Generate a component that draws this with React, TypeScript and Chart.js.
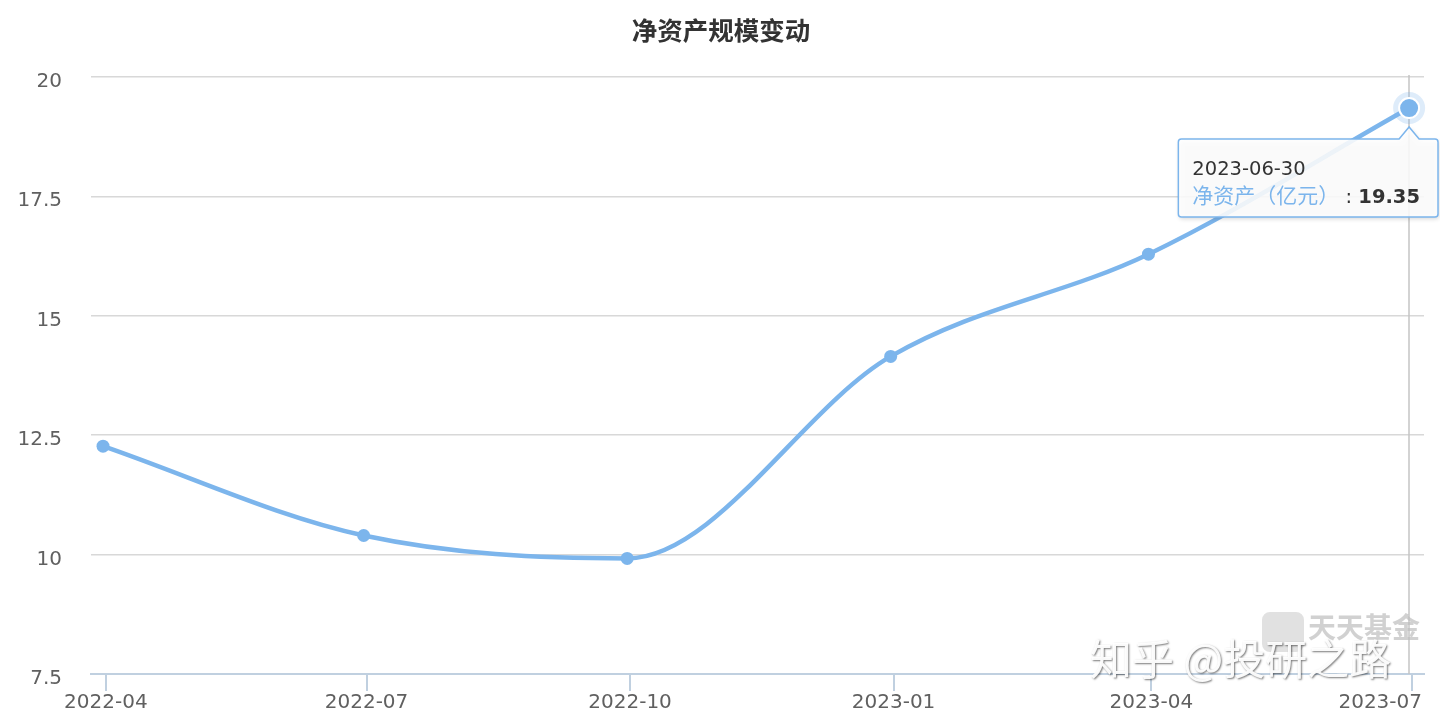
import React, { useEffect, useRef } from 'react';
import { Chart, registerables } from 'chart.js';

Chart.register(...registerables);

const chartTitle = '净资产规模变动';
const seriesName = '净资产（亿元）';
const reportDates = ['2022-03-31', '2022-06-30', '2022-09-30', '2022-12-31', '2023-03-31', '2023-06-30'];
const netAssets = [12.27, 10.4, 9.92, 14.15, 16.29, 19.35];
const xTickDates = ['2022-04-01', '2022-07-01', '2022-10-01', '2023-01-01', '2023-04-01', '2023-07-01'];
const xTickLabels = ['2022-04', '2022-07', '2022-10', '2023-01', '2023-04', '2023-07'];
const yTickValues = [7.5, 10, 12.5, 15, 17.5, 20];
const yTickLabels = ['7.5', '10', '12.5', '15', '17.5', '20'];
const activeIndex = 5;

const BASE = Date.UTC(2022, 2, 31);
const dayOf = (s: string) => {
  const [y, m, d] = s.split('-').map(Number);
  return (Date.UTC(y, m - 1, d) - BASE) / 86400000;
};

const LINE_COLOR = '#7cb5ec';
const LABEL_FONT = '"DejaVu Sans", "Noto Sans CJK SC", sans-serif';
const CJK_FONT = '"Noto Sans CJK SC", "DejaVu Sans", sans-serif';

const decorPlugin = {
  id: 'decor',
  beforeDatasetsDraw(chart: any) {
    const { ctx, chartArea, scales } = chart;
    const px = Math.round(scales.x.getPixelForValue(dayOf(reportDates[activeIndex])));
    ctx.save();
    ctx.strokeStyle = '#c4c4c4';
    ctx.lineWidth = 1.5;
    ctx.beginPath();
    ctx.moveTo(px, chartArea.top - 2);
    ctx.lineTo(px, chartArea.bottom);
    ctx.stroke();
    ctx.restore();
  },
  afterDraw(chart: any) {
    const { ctx, chartArea, scales, width } = chart;
    const xs = scales.x;
    const ys = scales.y;
    ctx.save();

    // title
    ctx.fillStyle = '#333333';
    ctx.font = `bold 25.5px ${CJK_FONT}`;
    ctx.textAlign = 'center';
    ctx.textBaseline = 'middle';
    ctx.fillText(chartTitle, 721, 30);

    // y labels
    ctx.font = `20px ${LABEL_FONT}`;
    ctx.fillStyle = '#606060';
    ctx.textAlign = 'right';
    ctx.textBaseline = 'alphabetic';
    yTickValues.forEach((v, i) => {
      const py = ys.getPixelForValue(v);
      ctx.fillText(yTickLabels[i], chartArea.left - 29, py + 10);
    });

    // x labels
    ctx.textAlign = 'left';
    xTickDates.forEach((d, i) => {
      const px = xs.getPixelForValue(dayOf(d));
      const w = ctx.measureText(xTickLabels[i]).width;
      let left = px - w / 2;
      if (left + w > width - 18) left = width - 18 - w;
      ctx.fillText(xTickLabels[i], left, 708);
    });

    // hovered point
    const hx = xs.getPixelForValue(dayOf(reportDates[activeIndex]));
    const hy = ys.getPixelForValue(netAssets[activeIndex]);
    ctx.fillStyle = 'rgba(124,181,236,0.25)';
    ctx.beginPath();
    ctx.arc(hx, hy, 16, 0, Math.PI * 2);
    ctx.fill();
    ctx.fillStyle = LINE_COLOR;
    ctx.strokeStyle = '#ffffff';
    ctx.lineWidth = 2;
    ctx.beginPath();
    ctx.arc(hx, hy, 10, 0, Math.PI * 2);
    ctx.fill();
    ctx.stroke();

    // tooltip
    const dateText = reportDates[activeIndex];
    const valueText = netAssets[activeIndex].toFixed(2);
    const dateFont = `19.5px ${LABEL_FONT}`;
    const nameFont = `21px ${CJK_FONT}`;
    const colonFont = `19.5px ${LABEL_FONT}`;
    const valFont = `bold 19.5px ${LABEL_FONT}`;
    ctx.font = dateFont;
    const wDate = ctx.measureText(dateText).width;
    ctx.font = nameFont;
    const wName = ctx.measureText(seriesName).width;
    ctx.font = colonFont;
    const wColon = ctx.measureText(' : ').width;
    ctx.font = valFont;
    const wVal = ctx.measureText(valueText).width;
    const contentW = Math.max(wDate, wName + wColon + wVal);
    const boxW = contentW + 32;
    const boxH = 78;
    const boxRight = Math.min(hx + 29, width - 2);
    const boxLeft = boxRight - boxW;
    const boxTop = hy + 31;
    const tipY = hy + 19;
    const r = 3;

    ctx.save();
    ctx.shadowColor = 'rgba(0,0,0,0.18)';
    ctx.shadowBlur = 4;
    ctx.shadowOffsetX = 1;
    ctx.shadowOffsetY = 2;
    ctx.beginPath();
    ctx.moveTo(boxLeft + r, boxTop);
    ctx.lineTo(hx - 10, boxTop);
    ctx.lineTo(hx, tipY);
    ctx.lineTo(hx + 10, boxTop);
    ctx.lineTo(boxRight - r, boxTop);
    ctx.arcTo(boxRight, boxTop, boxRight, boxTop + r, r);
    ctx.lineTo(boxRight, boxTop + boxH - r);
    ctx.arcTo(boxRight, boxTop + boxH, boxRight - r, boxTop + boxH, r);
    ctx.lineTo(boxLeft + r, boxTop + boxH);
    ctx.arcTo(boxLeft, boxTop + boxH, boxLeft, boxTop + boxH - r, r);
    ctx.lineTo(boxLeft, boxTop + r);
    ctx.arcTo(boxLeft, boxTop, boxLeft + r, boxTop, r);
    ctx.closePath();
    ctx.fillStyle = 'rgba(255,255,255,0.88)';
    ctx.fill();
    ctx.restore();
    ctx.strokeStyle = LINE_COLOR;
    ctx.lineWidth = 1.5;
    ctx.stroke();

    const tx = boxLeft + 14;
    ctx.textAlign = 'left';
    ctx.textBaseline = 'alphabetic';
    ctx.fillStyle = '#333333';
    ctx.font = dateFont;
    ctx.fillText(dateText, tx, boxTop + 36);
    ctx.fillStyle = LINE_COLOR;
    ctx.font = nameFont;
    ctx.fillText(seriesName, tx, boxTop + 64);
    ctx.fillStyle = '#333333';
    ctx.font = colonFont;
    ctx.fillText(' : ', tx + wName, boxTop + 64);
    ctx.font = valFont;
    ctx.fillText(valueText, tx + wName + wColon, boxTop + 64);

    // watermarks
    ctx.fillStyle = 'rgba(200,200,200,0.55)';
    ctx.beginPath();
    ctx.moveTo(1268, 612);
    ctx.arcTo(1304, 612, 1304, 652, 8);
    ctx.arcTo(1304, 652, 1262, 652, 8);
    ctx.arcTo(1262, 652, 1262, 612, 8);
    ctx.arcTo(1262, 612, 1304, 612, 8);
    ctx.closePath();
    ctx.fill();
    ctx.font = `bold 28px ${CJK_FONT}`;
    ctx.fillStyle = 'rgba(190,190,190,0.7)';
    ctx.textBaseline = 'middle';
    ctx.fillText('天天基金', 1308, 627);

    ctx.font = `42px ${CJK_FONT}`;
    ctx.textBaseline = 'middle';
    ctx.shadowColor = 'rgba(0,0,0,0.55)';
    ctx.shadowBlur = 2;
    ctx.shadowOffsetX = 1;
    ctx.shadowOffsetY = 1;
    ctx.fillStyle = 'rgba(255,255,255,0.95)';
    ctx.fillText('知乎 @投研之路', 1090, 659);
    ctx.restore();
  },
};

export default function App() {
  const canvasRef = useRef<HTMLCanvasElement>(null);

  useEffect(() => {
    if (!canvasRef.current) return;
    const points = reportDates.map((d, i) => ({ x: dayOf(d), y: netAssets[i] }));
    const chart = new Chart(canvasRef.current, {
      type: 'line',
      data: {
        datasets: [
          {
            label: seriesName,
            data: points,
            borderColor: LINE_COLOR,
            backgroundColor: LINE_COLOR,
            borderWidth: 4.5,
            pointRadius: 6.5,
            pointHoverRadius: 6.5,
            pointBackgroundColor: LINE_COLOR,
            pointBorderWidth: 0,
            cubicInterpolationMode: 'monotone',
            fill: false,
          },
        ],
      },
      plugins: [decorPlugin],
      options: {
        responsive: false,
        animation: false,
        events: [],
        layout: { padding: { top: 77, right: 16, bottom: 0, left: 0 } },
        plugins: {
          legend: { display: false },
          title: { display: false },
          tooltip: { enabled: false },
        },
        scales: {
          x: {
            type: 'linear',
            min: -4.2,
            max: 461.2,
            afterBuildTicks: (scale: any) => {
              scale.ticks = xTickDates.map((d) => ({ value: dayOf(d) }));
            },
            afterFit: (scale: any) => {
              scale.height = 50;
              scale.paddingLeft = 0;
              scale.paddingRight = 0;
            },
            ticks: { display: false },
            grid: {
              drawOnChartArea: false,
              drawTicks: true,
              tickLength: 17,
              color: '#c0d0e0',
              lineWidth: 2,
            },
            border: { display: true, color: '#c0d0e0', width: 2 },
          },
          y: {
            min: 7.5,
            max: 20,
            afterBuildTicks: (scale: any) => {
              scale.ticks = yTickValues.map((v) => ({ value: v }));
            },
            afterFit: (scale: any) => {
              scale.width = 91;
            },
            ticks: { display: false },
            grid: {
              drawTicks: false,
              color: (c: any) => (c.tick && c.tick.value === 7.5 ? 'rgba(0,0,0,0)' : '#d8d8d8'),
              lineWidth: 1.5,
            },
            border: { display: false },
          },
        },
      },
    });
    return () => chart.destroy();
  }, []);

  return (
    <div style={{ position: 'absolute', left: 0, top: 0, width: 1440, height: 724, background: '#ffffff' }}>
      <canvas ref={canvasRef} width={1440} height={724} style={{ display: 'block' }} />
    </div>
  );
}
